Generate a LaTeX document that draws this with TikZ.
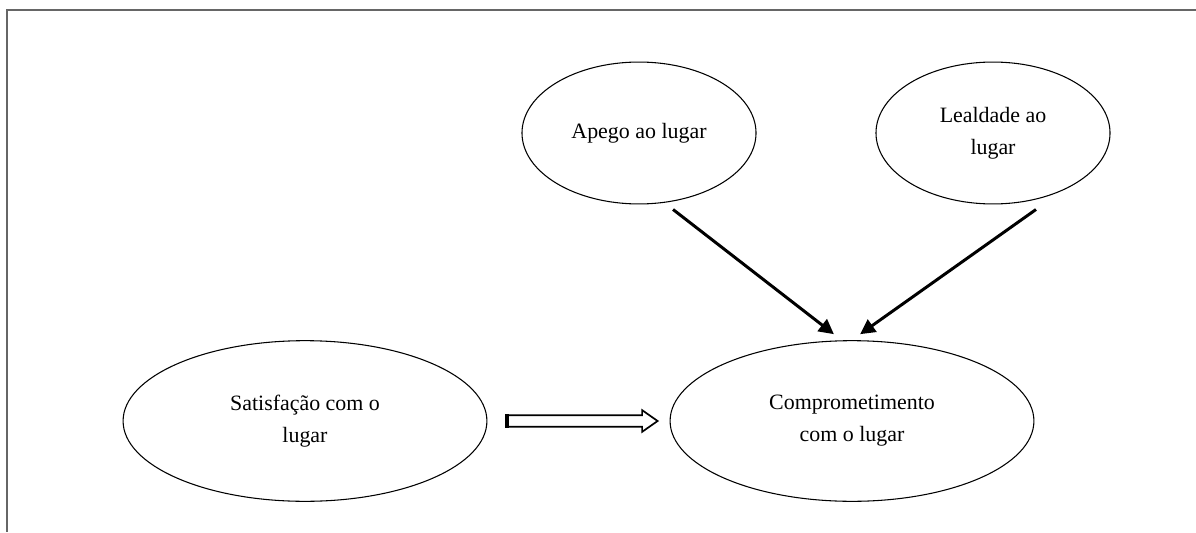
\documentclass[tikz,border=0pt]{standalone}
\usepackage{fontspec}
\setmainfont{Liberation Serif}
\usepackage{tikz}
\usetikzlibrary{shapes.geometric, shapes.arrows, positioning, arrows.meta}

\begin{document}
\begin{tikzpicture}[x=0.47pt, y=0.47pt, font=\fontsize{10.3}{15}\selectfont]
    % Define styles
    \tikzstyle{small} = [ellipse, draw, line width=0.5pt, align=center, minimum width=110pt, minimum height=66.7pt]
    \tikzstyle{big} = [ellipse, draw, line width=0.5pt, align=center, minimum width=171pt, minimum height=75.5pt]
    \tikzstyle{arrow} = [-{Triangle[length=7pt, width=7pt]}, line width=1.4pt]
    \tikzstyle{hollow} = [single arrow, draw, line width=0.8pt, fill=white, inner sep=2.3pt, minimum height=70.5pt, single arrow head extend=2.4pt, single arrow tip angle=70]

    \useasboundingbox (0,0) rectangle (1196,532);
    \draw[gray!80!black, line width=0.9pt] (1196,522) -- (7,522) -- (7,0);

    % Nodes
    \node[small] (apego) at (639,399) {Apego ao lugar};
    \node[small] (lealdade) at (993,399) {Lealdade ao\\lugar};
    \node[big] (satisf) at (305,111) {Satisfação com o\\lugar};
    \node[big] (compr) at (852,111) {Comprometimento\\com o lugar};

    % Connections
    \draw[arrow] ([xshift=16pt, yshift=-2.35pt]apego.south) -- ([xshift=-8.5pt, yshift=2.8pt]compr.north);
    \draw[arrow] ([xshift=20.2pt, yshift=-2.35pt]lealdade.south) -- ([xshift=3.8pt, yshift=2.8pt]compr.north);
    \path (satisf.east) -- (compr.west) node[midway, hollow] (impl) {};
    \draw[line width=2pt] (impl.before tail) -- (impl.after tail);
\end{tikzpicture}
\end{document}
